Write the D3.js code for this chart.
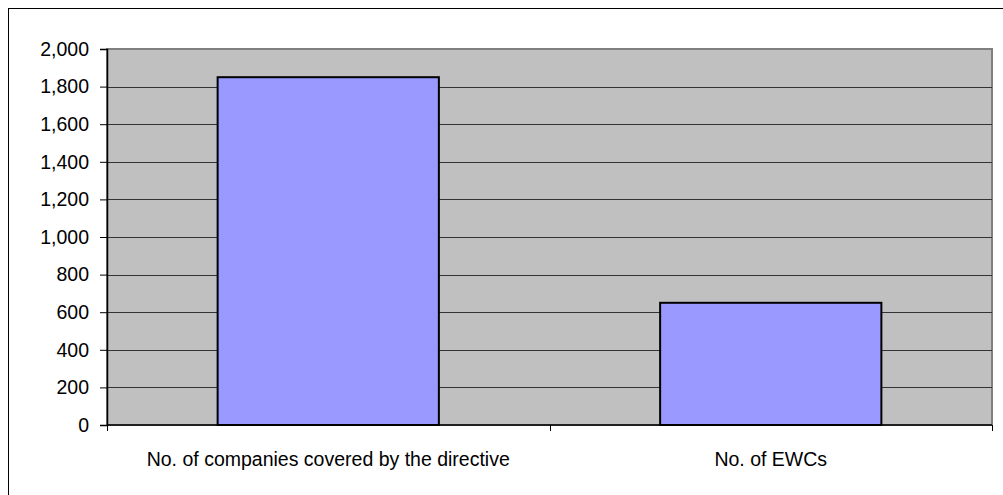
<!DOCTYPE html>
<html>
<head>
<meta charset="utf-8">
<script src="https://cdn.jsdelivr.net/npm/d3@7"></script>
<style>
  body { margin: 0; background: #fff; }
  svg { display: block; font-family: Arial, "Liberation Sans", sans-serif; }
</style>
</head>
<body>
<svg id="chart"></svg>
<script>
const categories = ['No. of companies covered by the directive', 'No. of EWCs'];
const values = [1850, 650];
const yTicks = [0, 200, 400, 600, 800, 1000, 1200, 1400, 1600, 1800, 2000];

const width = 1003,
  height = 495;
const margin = {top: 49, right: 11, bottom: 70, left: 107};
const fontSize = 19.5;

const svg = d3.select('#chart').attr('width', width).attr('height', height);

// outer frame (runs off the right and bottom edges like the original)
svg
  .append('rect')
  .attr('x', 8.5)
  .attr('y', 8.5)
  .attr('width', width)
  .attr('height', height)
  .attr('fill', '#fff')
  .attr('stroke', '#000')
  .attr('stroke-width', 1);

const x = d3
  .scaleBand()
  .domain(categories)
  .range([margin.left, width - margin.right]);

const y = d3
  .scaleLinear()
  .domain([0, 2000])
  .range([height - margin.bottom, margin.top]);

// plot area
svg
  .append('rect')
  .attr('x', margin.left)
  .attr('y', margin.top)
  .attr('width', width - margin.right - margin.left)
  .attr('height', y(0) - margin.top)
  .attr('fill', '#c0c0c0')
  .attr('stroke', '#808080')
  .attr('stroke-width', 2);

// gridlines
svg
  .append('g')
  .selectAll('line')
  .data(yTicks.filter((d) => d > 0 && d < 2000))
  .enter()
  .append('line')
  .attr('x1', margin.left)
  .attr('x2', width - margin.right)
  .attr('y1', (d) => Math.round(y(d)) + 0.5)
  .attr('y2', (d) => Math.round(y(d)) + 0.5)
  .attr('stroke', '#333')
  .attr('stroke-width', 1);

// bars
svg
  .append('g')
  .selectAll('rect')
  .data(values)
  .enter()
  .append('rect')
  .attr('x', (d, i) => x(categories[i]) + x.bandwidth() / 4)
  .attr('width', x.bandwidth() / 2)
  .attr('y', (d) => y(d))
  .attr('height', (d) => y(0) - y(d))
  .attr('fill', '#9999ff')
  .attr('stroke', '#000')
  .attr('stroke-width', 2);

// y axis
const yAxis = svg
  .append('g')
  .attr('transform', `translate(${margin.left},0)`)
  .call(
    d3
      .axisLeft(y)
      .tickValues(yTicks)
      .tickSize(7)
      .tickPadding(11)
      .tickFormat(d3.format(','))
  );
yAxis.select('.domain').attr('stroke', '#000').attr('stroke-width', 1.5);
yAxis.selectAll('.tick line').attr('stroke', '#000');
yAxis.selectAll('text').attr('font-size', fontSize).attr('fill', '#000');

// x axis
const xAxis = svg
  .append('g')
  .attr('transform', `translate(0,${y(0)})`);
xAxis
  .append('line')
  .attr('x1', margin.left)
  .attr('x2', width - margin.right)
  .attr('y1', 0)
  .attr('y2', 0)
  .attr('stroke', '#000')
  .attr('stroke-width', 1.5);
xAxis
  .selectAll('.xtick')
  .data([...categories.map((c) => x(c)), width - margin.right])
  .enter()
  .append('line')
  .attr('x1', (d) => Math.round(d) + 0.5)
  .attr('x2', (d) => Math.round(d) + 0.5)
  .attr('y1', 0)
  .attr('y2', 6)
  .attr('stroke', '#000');
xAxis
  .selectAll('text')
  .data(categories)
  .enter()
  .append('text')
  .attr('x', (d) => x(d) + x.bandwidth() / 2)
  .attr('y', 41)
  .attr('text-anchor', 'middle')
  .attr('font-size', fontSize)
  .attr('fill', '#000')
  .text((d) => d);
</script>
</body>
</html>
